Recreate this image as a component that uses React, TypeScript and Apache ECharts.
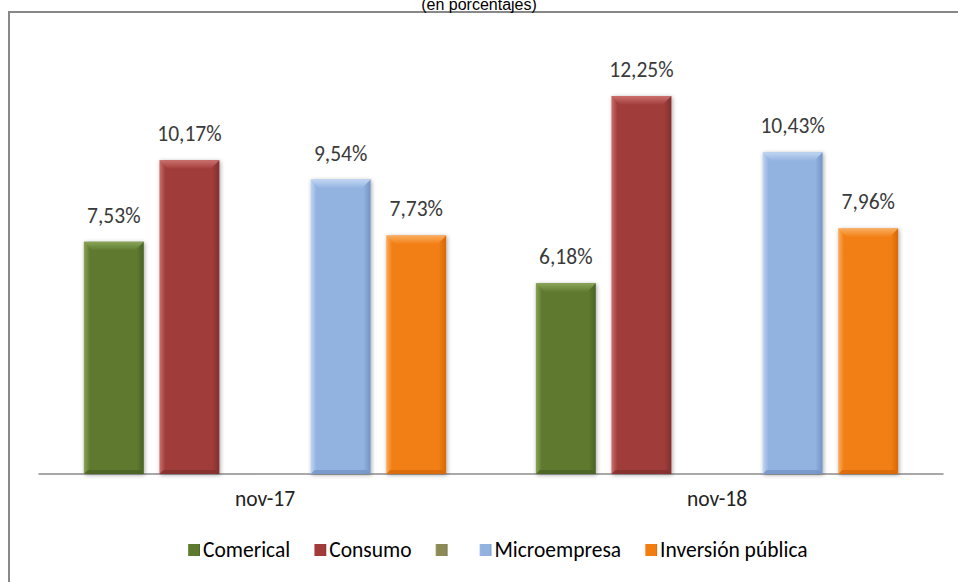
import React, { useEffect, useRef } from "react";
import * as echarts from "echarts";

const categories = ["nov-17", "nov-18"];
const seriesNames = ["Comerical", "Consumo", " ", "Microempresa", "Inversión pública"];
const comerical = [7.53, 6.18];
const consumo = [10.17, 12.25];
const vacio: (number | null)[] = [null, null];
const microempresa = [9.54, 10.43];
const inversion = [7.73, 7.96];
const titleText = "(en porcentajes)";

const colors = ["#5E7A2F", "#A03C3A", "#8C8A55", "#92B2E0", "#F27E12"];
const edgeColors = ["#4A6224", "#82302E", "#6F6D43", "#7394C4", "#D4680A"];
const lightColors = ["#8AA55A", "#CC706D", "#B2B07A", "#C2D6F2", "#FAAE60"];
const legendPads = [[0, 0, 0, -2], [0, 12, 0, -2], [0, -11, 0, -2], [0, 4, 0, -2], [0, 0, 0, -2]];

const font = "Carlito, Lato, 'Noto Sans', sans-serif";
const BAR_W = 60;
const GAP_RATIO = 0.26;

function grad(i: number) {
  return new echarts.graphic.LinearGradient(0, 0, 1, 0, [
    { offset: 0, color: lightColors[i] },
    { offset: 0.1, color: colors[i] },
    { offset: 0.88, color: colors[i] },
    { offset: 1, color: edgeColors[i] },
  ]);
}

export default function App() {
  const ref = useRef<HTMLDivElement>(null);
  useEffect(() => {
    if (!ref.current) return;
    const chart = echarts.init(ref.current, undefined, { renderer: "svg" });
    const datas = [comerical, consumo, vacio, microempresa, inversion];
    const bevelData: any[] = [];
    datas.forEach((d, s) =>
      d.forEach((v, c) => {
        if (v != null) bevelData.push([c, v, s]);
      })
    );
    const barSeries = datas.map((d, i) => ({
      name: seriesNames[i],
      type: "bar",
      data: d,
      barWidth: BAR_W,
      barGap: GAP_RATIO * 100 + "%",
      barCategoryGap: "20%",
      itemStyle: {
        color: grad(i),
        shadowColor: "rgba(0,0,0,0.35)",
        shadowBlur: 4,
        shadowOffsetX: 1,
        shadowOffsetY: 1,
      },
      label: {
        show: true,
        position: "top",
        distance: 15,
        fontFamily: font,
        fontSize: 21.5,
        color: "#3a3a3a",
        formatter: (p: any) => (p.value == null ? "" : p.value.toFixed(2).replace(".", ",") + "%"),
      },
    }));
    const bevel = {
      type: "custom",
      name: "bevel",
      silent: true,
      z: 5,
      data: bevelData,
      renderItem: (params: any, api: any) => {
        const cat = api.value(0);
        const v = api.value(1);
        const s = api.value(2);
        const top = api.coord([cat, v]);
        const base = api.coord([cat, 0]);
        const gap = BAR_W * GAP_RATIO;
        const groupW = 5 * BAR_W + 4 * gap;
        const x0 = top[0] - groupW / 2 + s * (BAR_W + gap);
        const x1 = x0 + BAR_W;
        const y0 = top[1];
        const b = 9;
        return {
          type: "group",
          children: [
            {
              type: "polygon",
              shape: { points: [[x0, y0], [x1, y0], [x1 - b, y0 + b], [x0 + b, y0 + b]] },
              style: {
                fill: new echarts.graphic.LinearGradient(0, 0, 0, 1, [
                  { offset: 0, color: lightColors[s] },
                  { offset: 1, color: colors[s] },
                ]),
              },
            },
            {
              type: "polygon",
              shape: { points: [[x0, base[1]], [x1, base[1]], [x1 - 4, base[1] - 4], [x0 + 4, base[1] - 4]] },
              style: { fill: edgeColors[s], opacity: 0.8 },
            },
          ],
        };
      },
    };
    chart.setOption({
      animation: false,
      title: {
        text: titleText,
        left: "center",
        top: -9,
        textStyle: { fontFamily: "'Liberation Sans', Arial, sans-serif", fontSize: 16, fontWeight: "normal", color: "#000" },
      },
      graphic: [
        {
          type: "rect",
          shape: { x: 9, y: 12, width: 960, height: 580 },
          style: { fill: "none", stroke: "#888888", lineWidth: 2 },
          silent: true,
        },
      ],
      legend: {
        bottom: 16,
        left: 183,
        itemWidth: 12,
        itemHeight: 12,
        itemGap: 24,
        icon: "rect",
        data: seriesNames.map((n, i) => ({ name: n, textStyle: { padding: legendPads[i] } })),
        textStyle: { fontFamily: font, fontSize: 21.5, color: "#000" },
      },
      grid: { left: 39, right: 15, top: 42, bottom: 108 },
      xAxis: {
        type: "category",
        data: categories,
        axisTick: { show: false },
        axisLine: { lineStyle: { color: "#8c8c8c", width: 1.5 } },
        axisLabel: { fontFamily: font, fontSize: 21.5, color: "#222", margin: 14 },
      },
      yAxis: { type: "value", min: 0, max: 14, show: false, splitLine: { show: false } },
      series: [...barSeries, bevel],
    });
    return () => chart.dispose();
  }, []);
  return <div ref={ref} style={{ width: 958, height: 582, position: "absolute", left: 0, top: 0 }} />;
}
